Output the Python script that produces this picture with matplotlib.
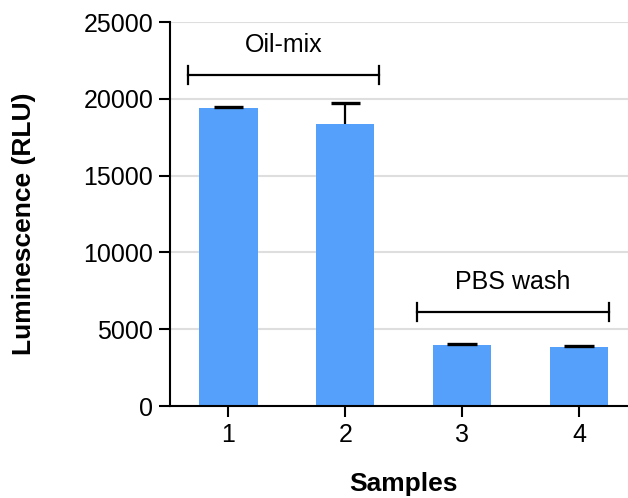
import matplotlib
matplotlib.use("Agg")
from matplotlib import pyplot as plt

plt.rcParams['font.family'] = ['Liberation Sans', 'DejaVu Sans']

samples = [1, 2, 3, 4]
luminescence = [19400, 18360, 3960, 3840]
errors = [60, 1370, 70, 60]
groups = ["Oil-mix", "PBS wash"]
group_spans = [(0.65, 2.29), (2.61, 4.26)]
group_levels = [21550, 6120]

fig = plt.figure(figsize=(6.28, 4.98), dpi=100)
ax = fig.add_axes([0.2707, 0.1847, 0.7293, 0.7711])

ax.bar(samples, luminescence, width=0.5, color='#55a0fb', zorder=2)

# upper error bars only (line + cap)
tops = [v + e for v, e in zip(luminescence, errors)]
ax.vlines(samples, luminescence, tops, color='black', lw=1.6, zorder=3)
ax.hlines(tops, [s - 0.125 for s in samples], [s + 0.125 for s in samples],
          color='black', lw=2.4, zorder=3)

# group brackets
for name, (x0, x1), lvl in zip(groups, group_spans, group_levels):
    ax.plot([x0, x1], [lvl, lvl], color='black', lw=1.6, zorder=3)
    for xe in (x0, x1):
        ax.plot([xe, xe], [lvl - 600, lvl + 600], color='black', lw=1.6, zorder=3)
    ax.text((x0 + x1) / 2, lvl + 1950, name, ha='center', va='center', fontsize=18)

ax.set_xlim(0.5, 4.42)
ax.set_ylim(0, 25000)
ax.set_yticks([0, 5000, 10000, 15000, 20000, 25000])
ax.set_xticks(samples)
ax.yaxis.grid(True, color='#dedede', lw=1.5, zorder=0)
ax.set_axisbelow(True)
for s in ['top', 'right']:
    ax.spines[s].set_visible(False)
ax.spines['left'].set_linewidth(1.5)
ax.spines['bottom'].set_linewidth(1.5)
ax.tick_params(labelsize=18, width=1.5, length=8, pad=4, direction='out')

fig.text(24 / 628, 1 - 224 / 498, 'Luminescence (RLU)', rotation=90,
         ha='center', va='center', fontsize=19, fontweight='bold')
fig.text(403 / 628, 1 - 484 / 498, 'Samples',
         ha='center', va='center', fontsize=19, fontweight='bold')

fig.savefig('out.png', dpi=100)
